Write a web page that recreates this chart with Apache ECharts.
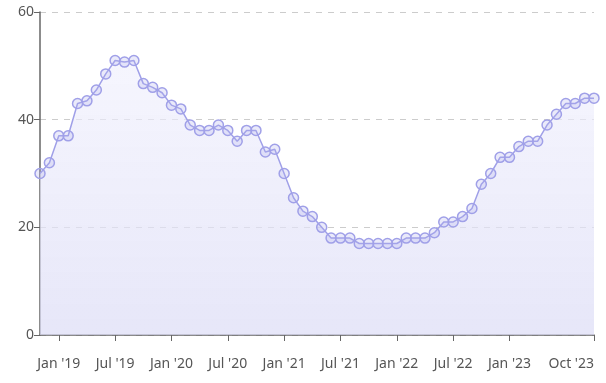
<!DOCTYPE html>
<html>
<head>
<meta charset="utf-8">
<script src="https://cdn.jsdelivr.net/npm/echarts@6/dist/echarts.min.js"></script>
<style>html,body{margin:0;padding:0;background:#fff}#c{width:606px;height:383px}</style>
</head>
<body>
<div id="c"></div>
<script>
// build category labels "Mon 'YY" from Nov 2018 to Oct 2023
const monthNames = ['Jan','Feb','Mar','Apr','May','Jun','Jul','Aug','Sep','Oct','Nov','Dec'];
const cats = [];
for (let y = 2018, m = 10; cats.length < 60; ) {
  cats.push(monthNames[m] + " '" + String(y).slice(2));
  m++; if (m > 11) { m = 0; y++; }
}
const tickLabels = ["Jan '19","Jul '19","Jan '20","Jul '20","Jan '21","Jul '21","Jan '22","Jul '22","Jan '23","Oct '23"];
const values = [30,32,37,37,43,43.5,45.5,48.5,51,50.7,51,46.7,46,45,42.7,42,39,38,38,39,38,36,38,38,34,34.5,30,25.5,23,22,20,18,18,18,17,17,17,17,17,18,18,18,19,21,21,22,23.5,28,30,33,33,35,36,36,39,41,43,43,44,44];
const yTicks = [0,20,40,60];

const showIdx = (i, v) => tickLabels.indexOf(cats[i]) >= 0;
const chart = echarts.init(document.getElementById('c'));
chart.setOption({
  animation: false,
  grid: {left: 40, right: 12, top: 12, bottom: 48},
  xAxis: {
    type: 'category', data: cats, boundaryGap: false,
    axisLine: {lineStyle: {color: '#666', width: 1.5}},
    axisTick: {interval: showIdx, length: 6, lineStyle: {color: '#666'}},
    axisLabel: {interval: showIdx, color: '#555', fontSize: 14, fontFamily: 'Noto Sans', margin: 22, alignMaxLabel: 'right'}
  },
  yAxis: {
    type: 'value', min: 0, max: 60, interval: 20,
    axisLine: {show: true, lineStyle: {color: '#666', width: 1.5}},
    axisTick: {show: true, length: 6, lineStyle: {color: '#666'}},
    axisLabel: {color: '#555', fontSize: 14, fontFamily: 'Noto Sans', margin: 6},
    splitLine: {lineStyle: {color: '#ccc', type: [6, 6]}}
  },
  series: [{
    type: 'line', data: values,
    symbol: 'circle', symbolSize: 10, showAllSymbol: true,
    lineStyle: {color: '#a0a0e8', width: 1.5},
    itemStyle: {color: 'rgba(170,170,236,0.25)', borderColor: '#a0a0e8', borderWidth: 1.5},
    areaStyle: {color: new echarts.graphic.LinearGradient(0, 0, 0, 1, [
      {offset: 0, color: 'rgba(240,240,253,0.9)'},
      {offset: 1, color: 'rgba(220,220,246,1)'}
    ])}
  }]
});
</script>
</body>
</html>
